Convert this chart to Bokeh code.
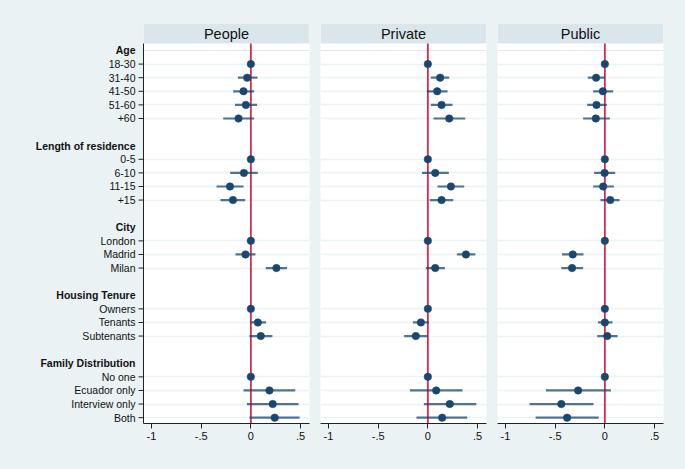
from bokeh.plotting import figure
from bokeh.layouts import row
from bokeh.models import (ColumnDataSource, Range1d, LinearAxis, FixedTicker, Grid)
from bokeh.core.properties import value
from bokeh.embed import file_html
from bokeh.resources import INLINE

# ---------------- data ----------------
groups = ["Age", "Length of residence", "City", "Housing Tenure", "Family Distribution"]
group_items = [
    ["18-30", "31-40", "41-50", "51-60", "+60"],
    ["0-5", "6-10", "11-15", "+15"],
    ["London", "Madrid", "Milan"],
    ["Owners", "Tenants", "Subtenants"],
    ["No one", "Ecuador only", "Interview only", "Both"],
]
panels = ["People", "Private", "Public"]

people_est = [0, -0.037, -0.074, -0.05, -0.124, 0, -0.07, -0.21, -0.18, 0, -0.054, 0.257, 0, 0.07, 0.1, 0, 0.187, 0.22, 0.24]
people_lo = [0, -0.13, -0.178, -0.16, -0.278, 0, -0.208, -0.345, -0.305, 0, -0.154, 0.15, 0, -0.007, -0.014, 0, -0.074, -0.04, -0.014]
people_hi = [0, 0.066, 0.033, 0.063, 0.033, 0, 0.07, -0.074, -0.057, 0, 0.046, 0.364, 0, 0.153, 0.217, 0, 0.447, 0.48, 0.49]

private_est = [0, 0.124, 0.094, 0.138, 0.215, 0, 0.074, 0.232, 0.138, 0, 0.383, 0.074, 0, -0.07, -0.121, 0, 0.084, 0.221, 0.144]
private_lo = [0, 0.03, -0.01, 0.03, 0.057, 0, -0.06, 0.097, 0.02, 0, 0.292, -0.02, 0, -0.151, -0.238, 0, -0.181, -0.04, -0.114]
private_hi = [0, 0.215, 0.198, 0.248, 0.376, 0, 0.211, 0.366, 0.255, 0, 0.477, 0.171, 0, 0.01, -0.003, 0, 0.349, 0.487, 0.396]

public_est = [0, -0.088, -0.02, -0.084, -0.091, 0, -0.003, -0.017, 0.054, 0, -0.323, -0.33, 0, 0, 0.024, 0, -0.269, -0.438, -0.38]
public_lo = [0, -0.172, -0.118, -0.178, -0.219, 0, -0.108, -0.118, -0.044, 0, -0.431, -0.438, 0, -0.07, -0.077, 0, -0.593, -0.758, -0.697]
public_hi = [0, 0.003, 0.084, 0.02, 0.05, 0, 0.104, 0.091, 0.148, 0, -0.215, -0.219, 0, 0.077, 0.128, 0, 0.061, -0.114, -0.061]

x_ticks = [-1, -0.5, 0, 0.5]
x_tick_labels = ["-1", "-.5", "0", ".5"]

# ---------------- styling ----------------
BG = "#eaf2f3"
HEADER = "#d9e6eb"
GRID = "#eaf2f3"
NAVY = "#1a476f"
RED = "#d6294f"
FONT = "Liberation Sans"
AX = "#222222"

X0, X1 = -1.08, 0.59
Y_TOP, Y_BOT = -1.985, 27.43
HEAD_BOT = -0.51
H = 469
TOP, BOT = 23, 46

# row positions
rows, labels, header_rows = [], [], []
idx = 0
for g, items in zip(groups, group_items):
    header_rows.append(idx)
    idx += 1
    for it in items:
        rows.append(idx)
        labels.append(it)
        idx += 1
    idx += 1

series = {
    "People": (people_est, people_lo, people_hi),
    "Private": (private_est, private_lo, private_hi),
    "Public": (public_est, public_lo, public_hi),
}

dims = {
    "People": dict(width=171, min_border_left=0, min_border_right=5),
    "Private": dict(width=177, min_border_left=6, min_border_right=5),
    "Public": dict(width=194, min_border_left=6, min_border_right=22),
}

yr = Range1d(Y_BOT, Y_TOP)

# label column (row labels + tick marks of the left axis)
LW = 143
lab = figure(width=LW, height=H, output_backend="svg", toolbar_location=None,
             x_range=Range1d(0, LW), y_range=yr, x_axis_location=None, y_axis_location=None,
             min_border_left=0, min_border_right=0, min_border_top=TOP, min_border_bottom=BOT)
lab.outline_line_color = None
lab.background_fill_color = BG
lab.border_fill_color = BG
lab.grid.visible = False
item_src = ColumnDataSource(dict(x=[LW - 8] * len(rows), t0=[LW - 5] * len(rows), t1=[LW] * len(rows),
                                 y=rows, t=labels))
head_src = ColumnDataSource(dict(x=[LW - 8] * len(header_rows), y=header_rows, t=groups))
lab.segment(x0="t0", x1="t1", y0="y", y1="y", source=item_src, line_color=AX, line_width=1)
lab.text(x="x", y="y", text="t", source=item_src, text_align="right", text_baseline="middle",
         text_font=value(FONT), text_font_size="10.5px", text_color="#111111")
lab.text(x="x", y="y", text="t", source=head_src, text_align="right", text_baseline="middle",
         text_font=value(FONT), text_font_size="10.5px", text_font_style="bold", text_color="#111111")

figs = [lab]
for name in panels:
    est, lo, hi = series[name]
    d = dims[name]
    p = figure(width=d["width"], height=H, output_backend="svg", toolbar_location=None,
               x_range=Range1d(X0, X1), y_range=yr,
               y_axis_location=None, min_border_left=d["min_border_left"],
               min_border_right=d["min_border_right"], min_border_top=TOP, min_border_bottom=BOT)
    p.outline_line_color = None
    p.background_fill_color = "white"
    p.border_fill_color = BG
    p.xgrid.visible = False

    grid = Grid(dimension=1, ticker=FixedTicker(ticks=rows), grid_line_color=GRID, grid_line_width=1.6)
    p.add_layout(grid)

    xa = p.xaxis[0]
    xa.ticker = FixedTicker(ticks=x_ticks)
    xa.major_label_overrides = {t: s for t, s in zip(x_ticks, x_tick_labels)}
    xa.axis_line_color = AX
    xa.major_tick_line_color = AX
    xa.major_tick_out = 5
    xa.major_tick_in = 0
    xa.minor_tick_line_color = None
    xa.major_label_standoff = 3
    xa.major_label_text_font = FONT
    xa.major_label_text_font_size = "11px"
    xa.major_label_text_color = "#111111"

    # header strip and title
    hsrc = ColumnDataSource(dict(l=[X0], r=[X1], t=[Y_TOP], b=[HEAD_BOT], cx=[(X0 + X1) / 2],
                                 cy=[(Y_TOP + HEAD_BOT) / 2], txt=[name]))
    p.quad(left="l", right="r", top="t", bottom="b", source=hsrc, fill_color=HEADER, line_color=None)
    p.text(x="cx", y="cy", text="txt", source=hsrc, text_align="center", text_baseline="middle",
           text_font=value(FONT), text_font_size="14.5px", text_color="#111111")

    # zero reference line
    p.segment(x0=[0], x1=[0], y0=[HEAD_BOT], y1=[Y_BOT], line_color=RED, line_width=1.8)

    src = ColumnDataSource(dict(y=rows, est=est, lo=lo, hi=hi))
    p.segment(x0="lo", x1="hi", y0="y", y1="y", source=src, line_color=NAVY, line_alpha=0.75, line_width=2.2)
    p.scatter(x="est", y="y", source=src, size=7.5, fill_color=NAVY, line_color=NAVY, line_width=0.5)

    if name == "People":
        ya = LinearAxis(ticker=FixedTicker(ticks=[]), bounds=(HEAD_BOT, Y_BOT))
        ya.axis_line_color = AX
        ya.major_tick_out = 0
        ya.major_tick_in = 0
        ya.minor_tick_out = 0
        ya.minor_tick_in = 0
        ya.major_label_standoff = 0
        p.add_layout(ya, "left")
    figs.append(p)

layout = row(*figs, spacing=0)
html = file_html(layout, INLINE, title="plot")
html = html.replace("<head>", "<head><style>body{background:%s;}</style>" % BG, 1)
open("out.html", "w").write(html)
